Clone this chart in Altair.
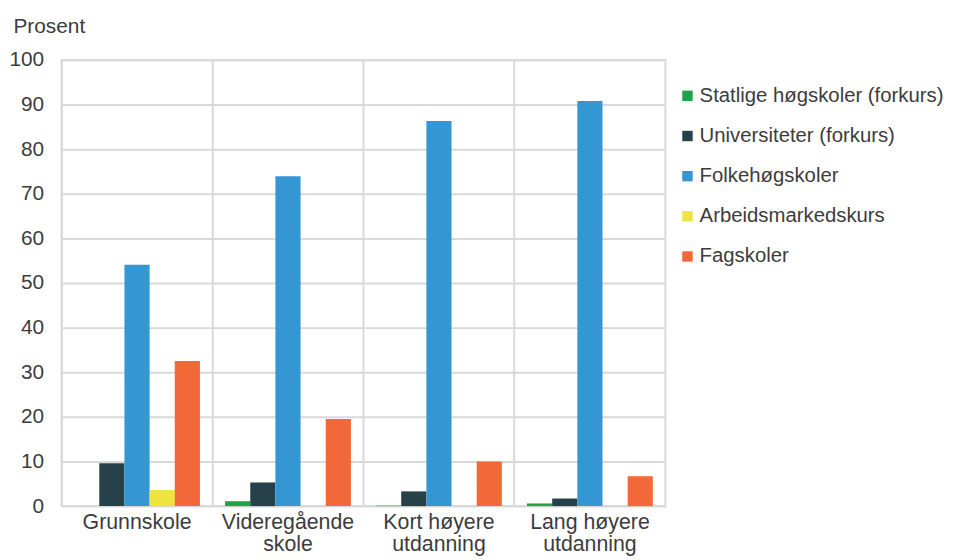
import altair as alt
import pandas as pd

categories = ["Grunnskole", "Videregående skole", "Kort høyere utdanning", "Lang høyere utdanning"]
series = ["Statlige høgskoler (forkurs)", "Universiteter (forkurs)", "Folkehøgskoler",
          "Arbeidsmarkedskurs", "Fagskoler"]
colors = ["#21a24a", "#264149", "#3497d4", "#efe33f", "#f36838"]

statlige = [0.0, 1.1, 0.1, 0.6]
universiteter = [9.6, 5.3, 3.3, 1.7]
folkehogskoler = [54.1, 73.9, 86.3, 90.8]
arbeidsmarked = [3.6, 0.0, 0.0, 0.0]
fagskoler = [32.5, 19.5, 10.0, 6.7]

values = [statlige, universiteter, folkehogskoler, arbeidsmarked, fagskoler]
rows = []
for s, vals in zip(series, values):
    for c, v in zip(categories, vals):
        rows.append({"kategori": c, "serie": s, "verdi": v})
df = pd.DataFrame(rows)

FONT = "Liberation Sans"
TXT = "#3c3c3c"
GRID = "#d9d9d9"

label_expr = ("indexof(datum.label, ' ') < 0 ? datum.label : "
              "[substring(datum.label, 0, lastindexof(datum.label, ' ')), "
              "substring(datum.label, lastindexof(datum.label, ' ') + 1)]")

chart = alt.Chart(df).mark_bar().encode(
    x=alt.X("kategori:N", sort=categories,
            scale=alt.Scale(paddingInner=0, paddingOuter=0),
            axis=alt.Axis(title=None, labelAngle=0, labelExpr=label_expr, ticks=False,
                          domain=False, grid=True, bandPosition=0, gridColor=GRID,
                          gridWidth=2, labelFontSize=21.5, labelColor=TXT, labelFont=FONT,
                          labelPadding=6, labelLineHeight=22)),
    xOffset=alt.XOffset("serie:N", sort=series,
                        scale=alt.Scale(paddingInner=0, paddingOuter=0.5)),
    y=alt.Y("verdi:Q", scale=alt.Scale(domain=[0, 100], nice=False),
            axis=alt.Axis(title="Prosent", titleAngle=0, titleAlign="left",
                          titleBaseline="alphabetic", titleX=-49, titleY=-28,
                          titleFontSize=21, titleFontWeight="normal", titleColor=TXT,
                          titleFont=FONT, values=list(range(0, 101, 10)), ticks=False,
                          domain=False, grid=True, gridColor=GRID, gridWidth=2,
                          labelFontSize=21, labelColor=TXT, labelFont=FONT,
                          labelPadding=18)),
    color=alt.Color("serie:N", sort=series,
                    scale=alt.Scale(domain=series, range=colors),
                    legend=alt.Legend(title=None, orient="none", legendX=621, legendY=26,
                                      symbolType="square", symbolSize=110,
                                      symbolStrokeWidth=0, labelFontSize=20.5,
                                      labelColor=TXT, labelFont=FONT, labelOffset=2,
                                      rowPadding=19.5, labelLimit=400)),
).properties(
    width=609, height=450,
    autosize=alt.AutoSizeParams(type="none"),
    padding={"left": 54, "top": 50, "right": 286, "bottom": 52},
).configure_view(stroke=GRID, strokeWidth=2)

chart.save("out.html", embed_options={"renderer": "svg", "actions": False})
